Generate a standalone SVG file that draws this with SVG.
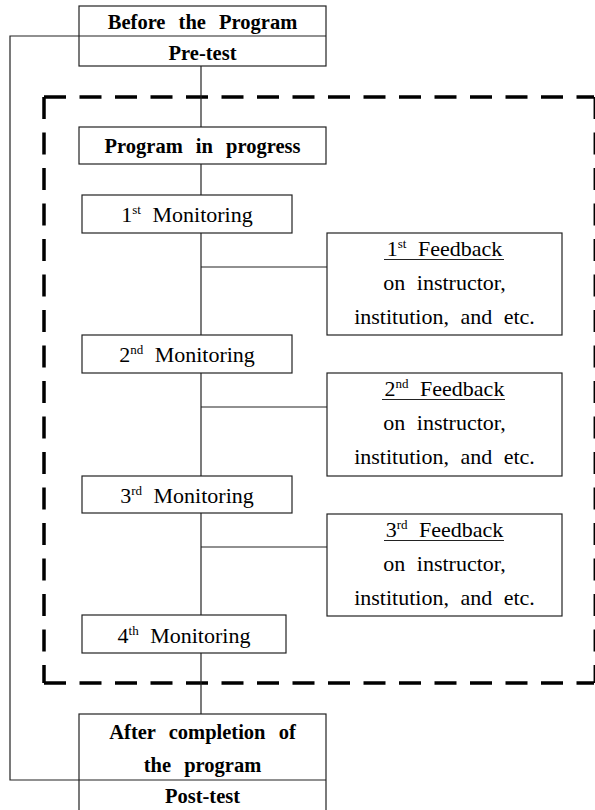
<svg xmlns="http://www.w3.org/2000/svg" width="595" height="810" viewBox="0 0 595 810">
<style>
.box{fill:#fff;stroke:#222;stroke-width:1.2}
.ln{stroke:#222;stroke-width:1.2;fill:none}
.dash{stroke:#000;stroke-width:3.5;stroke-dasharray:22 13.5;fill:none}
text{font-family:'Liberation Serif','Times New Roman','DejaVu Serif',serif;fill:#000;text-anchor:middle}
.bt{font-weight:bold;font-size:20.5px;word-spacing:8px}
.rt{font-size:22px;word-spacing:6px}
.sup{font-size:13px}
</style>
<rect width="595" height="810" fill="#fff"/>
<g id="frame">
<line class="dash" x1="44" y1="97" x2="594" y2="97"/>
<line class="dash" x1="44" y1="97" x2="44" y2="683"/>
<line class="dash" x1="44" y1="683" x2="594" y2="683"/>
<line class="dash" x1="595.3" y1="97" x2="595.3" y2="683"/>
</g>
<g id="connectors">
<polyline class="ln" points="79,36 10,36 10,780 79,780"/>
<line class="ln" x1="201" y1="66" x2="201" y2="127"/>
<line class="ln" x1="201" y1="164" x2="201" y2="195"/>
<line class="ln" x1="201" y1="233" x2="201" y2="335"/>
<line class="ln" x1="201" y1="373" x2="201" y2="476"/>
<line class="ln" x1="201" y1="513" x2="201" y2="615"/>
<line class="ln" x1="201" y1="653" x2="201" y2="714"/>
<line class="ln" x1="201" y1="267" x2="327" y2="267"/>
<line class="ln" x1="201" y1="407" x2="327" y2="407"/>
<line class="ln" x1="201" y1="547" x2="327" y2="547"/>
</g>
<g id="before">
<rect class="box" x="79" y="6" width="247" height="60"/>
<line class="ln" x1="79" y1="36" x2="326" y2="36"/>
<text class="bt" x="202.5" y="29">Before the Program</text>
<text class="bt" x="202.5" y="60">Pre-test</text>
</g>
<g id="progress">
<rect class="box" x="79" y="127" width="247" height="37"/>
<text class="bt" x="202.5" y="153">Program in progress</text>
</g>
<g id="mon1">
<rect class="box" x="82" y="195" width="210" height="38"/>
<text class="rt" x="187" y="222">1<tspan class="sup" dy="-8">st</tspan><tspan dy="8"> Monitoring</tspan></text>
</g>
<g id="fb1">
<rect class="box" x="327" y="233" width="235" height="102"/>
<text class="rt" x="444.5" y="256">1<tspan class="sup" dy="-8">st</tspan><tspan dy="8"> Feedback</tspan></text>
<line class="ln" x1="384" y1="259.5" x2="504" y2="259.5"/>
<text class="rt" x="444.5" y="290">on instructor,</text>
<text class="rt" x="444.5" y="324">institution, and etc.</text>
</g>
<g id="mon2">
<rect class="box" x="82" y="335" width="210" height="38"/>
<text class="rt" x="187" y="362">2<tspan class="sup" dy="-8">nd</tspan><tspan dy="8"> Monitoring</tspan></text>
</g>
<g id="fb2">
<rect class="box" x="327" y="373" width="235" height="103"/>
<text class="rt" x="444.5" y="396">2<tspan class="sup" dy="-8">nd</tspan><tspan dy="8"> Feedback</tspan></text>
<line class="ln" x1="382" y1="399.5" x2="505" y2="399.5"/>
<text class="rt" x="444.5" y="430">on instructor,</text>
<text class="rt" x="444.5" y="464">institution, and etc.</text>
</g>
<g id="mon3">
<rect class="box" x="82" y="476" width="210" height="37"/>
<text class="rt" x="187" y="503">3<tspan class="sup" dy="-8">rd</tspan><tspan dy="8"> Monitoring</tspan></text>
</g>
<g id="fb3">
<rect class="box" x="327" y="514" width="235" height="102"/>
<text class="rt" x="444.5" y="537">3<tspan class="sup" dy="-8">rd</tspan><tspan dy="8"> Feedback</tspan></text>
<line class="ln" x1="384" y1="540.5" x2="504" y2="540.5"/>
<text class="rt" x="444.5" y="571">on instructor,</text>
<text class="rt" x="444.5" y="605">institution, and etc.</text>
</g>
<g id="mon4">
<rect class="box" x="82" y="615" width="204" height="38"/>
<text class="rt" x="184" y="643">4<tspan class="sup" dy="-8">th</tspan><tspan dy="8"> Monitoring</tspan></text>
</g>
<g id="after">
<rect class="box" x="79" y="714" width="247" height="110"/>
<line class="ln" x1="79" y1="780" x2="326" y2="780"/>
<text class="bt" x="202.5" y="739">After completion of</text>
<text class="bt" x="202.5" y="772">the program</text>
<text class="bt" x="202.5" y="803">Post-test</text>
</g>
</svg>
